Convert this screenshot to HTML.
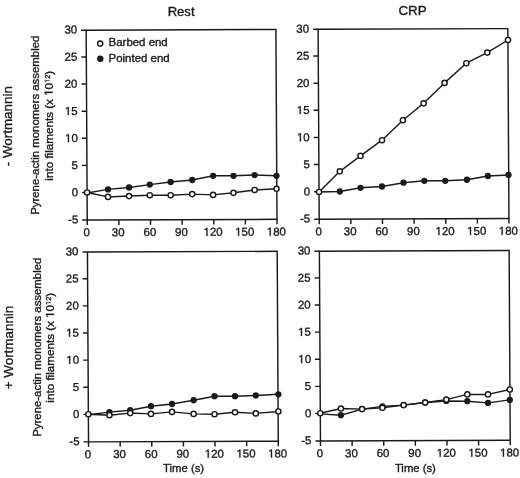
<!DOCTYPE html>
<html><head><meta charset="utf-8"><style>
html,body{margin:0;padding:0;background:#fff;}
body{width:520px;height:478px;overflow:hidden;}
svg{display:block;will-change:transform;}
text{fill:#1a1a1a;stroke:#1a1a1a;stroke-width:0.35px;}
.g1{fill:#1a1a1a;stroke:#1a1a1a;stroke-width:70px;}
</style></head><body>
<svg width="520" height="478" viewBox="0 0 520 478">
<rect width="520" height="478" fill="#fff"/>
<g transform="matrix(0.998688,-0.003697,0.005751,0.999256,86.158000,30.186000)">
<rect x="0" y="0" width="190.0" height="190.0" fill="none" stroke="#1a1a1a" stroke-width="1.45"/>
<line x1="-5" y1="190.00" x2="0" y2="190.00" stroke="#1a1a1a" stroke-width="1.45"/>
<text x="-19.23" y="193.30" font-size="11.5" font-family="Liberation Sans, sans-serif">-5</text>
<line x1="-5" y1="162.46" x2="0" y2="162.46" stroke="#1a1a1a" stroke-width="1.45"/>
<text x="-15.40" y="166.16" font-size="11.5" font-family="Liberation Sans, sans-serif">0</text>
<line x1="-5" y1="135.31" x2="0" y2="135.31" stroke="#1a1a1a" stroke-width="1.45"/>
<text x="-15.40" y="139.01" font-size="11.5" font-family="Liberation Sans, sans-serif">5</text>
<line x1="-5" y1="108.17" x2="0" y2="108.17" stroke="#1a1a1a" stroke-width="1.45"/>
<text x="-21.79" y="111.87" font-size="11.5" font-family="Liberation Sans, sans-serif">&#8199;0</text>
<path class="g1" transform="translate(-21.79,111.87) scale(0.00562,-0.00562)" d="M515 0V1237L197 1010V1180L530 1409H696V0Z"/>
<line x1="-5" y1="81.03" x2="0" y2="81.03" stroke="#1a1a1a" stroke-width="1.45"/>
<text x="-21.79" y="84.73" font-size="11.5" font-family="Liberation Sans, sans-serif">&#8199;5</text>
<path class="g1" transform="translate(-21.79,84.73) scale(0.00562,-0.00562)" d="M515 0V1237L197 1010V1180L530 1409H696V0Z"/>
<line x1="-5" y1="53.89" x2="0" y2="53.89" stroke="#1a1a1a" stroke-width="1.45"/>
<text x="-21.79" y="57.59" font-size="11.5" font-family="Liberation Sans, sans-serif">20</text>
<line x1="-5" y1="26.74" x2="0" y2="26.74" stroke="#1a1a1a" stroke-width="1.45"/>
<text x="-21.79" y="30.44" font-size="11.5" font-family="Liberation Sans, sans-serif">25</text>
<line x1="-5" y1="0.00" x2="0" y2="0.00" stroke="#1a1a1a" stroke-width="1.45"/>
<text x="-21.79" y="3.30" font-size="11.5" font-family="Liberation Sans, sans-serif">30</text>
<line x1="0.00" y1="190.0" x2="0.00" y2="195.0" stroke="#1a1a1a" stroke-width="1.45"/>
<text x="-3.90" y="206.30" font-size="11.5" font-family="Liberation Sans, sans-serif">0</text>
<line x1="31.67" y1="190.0" x2="31.67" y2="195.0" stroke="#1a1a1a" stroke-width="1.45"/>
<text x="24.57" y="206.30" font-size="11.5" font-family="Liberation Sans, sans-serif">30</text>
<line x1="63.33" y1="190.0" x2="63.33" y2="195.0" stroke="#1a1a1a" stroke-width="1.45"/>
<text x="56.24" y="206.30" font-size="11.5" font-family="Liberation Sans, sans-serif">60</text>
<line x1="95.00" y1="190.0" x2="95.00" y2="195.0" stroke="#1a1a1a" stroke-width="1.45"/>
<text x="87.90" y="206.30" font-size="11.5" font-family="Liberation Sans, sans-serif">90</text>
<line x1="126.67" y1="190.0" x2="126.67" y2="195.0" stroke="#1a1a1a" stroke-width="1.45"/>
<text x="116.37" y="206.30" font-size="11.5" font-family="Liberation Sans, sans-serif">&#8199;20</text>
<path class="g1" transform="translate(116.37,206.30) scale(0.00562,-0.00562)" d="M515 0V1237L197 1010V1180L530 1409H696V0Z"/>
<line x1="158.33" y1="190.0" x2="158.33" y2="195.0" stroke="#1a1a1a" stroke-width="1.45"/>
<text x="148.04" y="206.30" font-size="11.5" font-family="Liberation Sans, sans-serif">&#8199;50</text>
<path class="g1" transform="translate(148.04,206.30) scale(0.00562,-0.00562)" d="M515 0V1237L197 1010V1180L530 1409H696V0Z"/>
<line x1="190.00" y1="190.0" x2="190.00" y2="195.0" stroke="#1a1a1a" stroke-width="1.45"/>
<text x="179.71" y="206.30" font-size="11.5" font-family="Liberation Sans, sans-serif">&#8199;80</text>
<path class="g1" transform="translate(179.71,206.30) scale(0.00562,-0.00562)" d="M515 0V1237L197 1010V1180L530 1409H696V0Z"/>
<polyline fill="none" stroke="#1a1a1a" stroke-width="1.45" stroke-linejoin="round" points="0.00,162.86 20.95,159.41 41.99,157.59 62.83,154.76 83.68,152.24 105.32,150.32 126.27,146.19 146.69,146.27 167.82,145.64 189.75,146.42"/>
<circle cx="20.95" cy="159.41" r="3.15" fill="#1a1a1a"/>
<circle cx="41.99" cy="157.59" r="3.15" fill="#1a1a1a"/>
<circle cx="62.83" cy="154.76" r="3.15" fill="#1a1a1a"/>
<circle cx="83.68" cy="152.24" r="3.15" fill="#1a1a1a"/>
<circle cx="105.32" cy="150.32" r="3.15" fill="#1a1a1a"/>
<circle cx="126.27" cy="146.19" r="3.15" fill="#1a1a1a"/>
<circle cx="146.69" cy="146.27" r="3.15" fill="#1a1a1a"/>
<circle cx="167.82" cy="145.64" r="3.15" fill="#1a1a1a"/>
<circle cx="189.75" cy="146.42" r="3.15" fill="#1a1a1a"/>
<polyline fill="none" stroke="#1a1a1a" stroke-width="1.45" stroke-linejoin="round" points="0.00,162.43 20.91,166.92 41.94,166.19 62.77,165.37 83.60,165.45 105.23,164.43 126.16,165.30 146.60,163.28 167.74,160.55 189.67,159.43"/>
<circle cx="0.00" cy="162.43" r="2.60" fill="#fff" stroke="#1a1a1a" stroke-width="1.45"/>
<circle cx="20.91" cy="166.92" r="2.60" fill="#fff" stroke="#1a1a1a" stroke-width="1.45"/>
<circle cx="41.94" cy="166.19" r="2.60" fill="#fff" stroke="#1a1a1a" stroke-width="1.45"/>
<circle cx="62.77" cy="165.37" r="2.60" fill="#fff" stroke="#1a1a1a" stroke-width="1.45"/>
<circle cx="83.60" cy="165.45" r="2.60" fill="#fff" stroke="#1a1a1a" stroke-width="1.45"/>
<circle cx="105.23" cy="164.43" r="2.60" fill="#fff" stroke="#1a1a1a" stroke-width="1.45"/>
<circle cx="126.16" cy="165.30" r="2.60" fill="#fff" stroke="#1a1a1a" stroke-width="1.45"/>
<circle cx="146.60" cy="163.28" r="2.60" fill="#fff" stroke="#1a1a1a" stroke-width="1.45"/>
<circle cx="167.74" cy="160.55" r="2.60" fill="#fff" stroke="#1a1a1a" stroke-width="1.45"/>
<circle cx="189.67" cy="159.43" r="2.60" fill="#fff" stroke="#1a1a1a" stroke-width="1.45"/>
<rect x="232.25" y="0" width="190.0" height="190.0" fill="none" stroke="#1a1a1a" stroke-width="1.45"/>
<line x1="227.25" y1="190.00" x2="232.25" y2="190.00" stroke="#1a1a1a" stroke-width="1.45"/>
<text x="213.02" y="193.30" font-size="11.5" font-family="Liberation Sans, sans-serif">-5</text>
<line x1="227.25" y1="162.46" x2="232.25" y2="162.46" stroke="#1a1a1a" stroke-width="1.45"/>
<text x="216.85" y="166.16" font-size="11.5" font-family="Liberation Sans, sans-serif">0</text>
<line x1="227.25" y1="135.31" x2="232.25" y2="135.31" stroke="#1a1a1a" stroke-width="1.45"/>
<text x="216.85" y="139.01" font-size="11.5" font-family="Liberation Sans, sans-serif">5</text>
<line x1="227.25" y1="108.17" x2="232.25" y2="108.17" stroke="#1a1a1a" stroke-width="1.45"/>
<text x="210.46" y="111.87" font-size="11.5" font-family="Liberation Sans, sans-serif">&#8199;0</text>
<path class="g1" transform="translate(210.46,111.87) scale(0.00562,-0.00562)" d="M515 0V1237L197 1010V1180L530 1409H696V0Z"/>
<line x1="227.25" y1="81.03" x2="232.25" y2="81.03" stroke="#1a1a1a" stroke-width="1.45"/>
<text x="210.46" y="84.73" font-size="11.5" font-family="Liberation Sans, sans-serif">&#8199;5</text>
<path class="g1" transform="translate(210.46,84.73) scale(0.00562,-0.00562)" d="M515 0V1237L197 1010V1180L530 1409H696V0Z"/>
<line x1="227.25" y1="53.89" x2="232.25" y2="53.89" stroke="#1a1a1a" stroke-width="1.45"/>
<text x="210.46" y="57.59" font-size="11.5" font-family="Liberation Sans, sans-serif">20</text>
<line x1="227.25" y1="26.74" x2="232.25" y2="26.74" stroke="#1a1a1a" stroke-width="1.45"/>
<text x="210.46" y="30.44" font-size="11.5" font-family="Liberation Sans, sans-serif">25</text>
<line x1="227.25" y1="0.00" x2="232.25" y2="0.00" stroke="#1a1a1a" stroke-width="1.45"/>
<text x="210.46" y="3.30" font-size="11.5" font-family="Liberation Sans, sans-serif">30</text>
<line x1="232.25" y1="190.0" x2="232.25" y2="195.0" stroke="#1a1a1a" stroke-width="1.45"/>
<text x="228.35" y="206.30" font-size="11.5" font-family="Liberation Sans, sans-serif">0</text>
<line x1="263.92" y1="190.0" x2="263.92" y2="195.0" stroke="#1a1a1a" stroke-width="1.45"/>
<text x="256.82" y="206.30" font-size="11.5" font-family="Liberation Sans, sans-serif">30</text>
<line x1="295.58" y1="190.0" x2="295.58" y2="195.0" stroke="#1a1a1a" stroke-width="1.45"/>
<text x="288.49" y="206.30" font-size="11.5" font-family="Liberation Sans, sans-serif">60</text>
<line x1="327.25" y1="190.0" x2="327.25" y2="195.0" stroke="#1a1a1a" stroke-width="1.45"/>
<text x="320.15" y="206.30" font-size="11.5" font-family="Liberation Sans, sans-serif">90</text>
<line x1="358.92" y1="190.0" x2="358.92" y2="195.0" stroke="#1a1a1a" stroke-width="1.45"/>
<text x="348.62" y="206.30" font-size="11.5" font-family="Liberation Sans, sans-serif">&#8199;20</text>
<path class="g1" transform="translate(348.62,206.30) scale(0.00562,-0.00562)" d="M515 0V1237L197 1010V1180L530 1409H696V0Z"/>
<line x1="390.58" y1="190.0" x2="390.58" y2="195.0" stroke="#1a1a1a" stroke-width="1.45"/>
<text x="380.29" y="206.30" font-size="11.5" font-family="Liberation Sans, sans-serif">&#8199;50</text>
<path class="g1" transform="translate(380.29,206.30) scale(0.00562,-0.00562)" d="M515 0V1237L197 1010V1180L530 1409H696V0Z"/>
<line x1="422.25" y1="190.0" x2="422.25" y2="195.0" stroke="#1a1a1a" stroke-width="1.45"/>
<text x="411.96" y="206.30" font-size="11.5" font-family="Liberation Sans, sans-serif">&#8199;80</text>
<path class="g1" transform="translate(411.96,206.30) scale(0.00562,-0.00562)" d="M515 0V1237L197 1010V1180L530 1409H696V0Z"/>
<polyline fill="none" stroke="#1a1a1a" stroke-width="1.45" stroke-linejoin="round" points="232.25,162.86 253.04,162.37 273.79,158.74 295.32,157.52 316.87,153.80 337.71,151.98 358.64,152.05 380.37,151.08 401.42,147.41 422.05,146.48"/>
<circle cx="253.04" cy="162.37" r="3.15" fill="#1a1a1a"/>
<circle cx="273.79" cy="158.74" r="3.15" fill="#1a1a1a"/>
<circle cx="295.32" cy="157.52" r="3.15" fill="#1a1a1a"/>
<circle cx="316.87" cy="153.80" r="3.15" fill="#1a1a1a"/>
<circle cx="337.71" cy="151.98" r="3.15" fill="#1a1a1a"/>
<circle cx="358.64" cy="152.05" r="3.15" fill="#1a1a1a"/>
<circle cx="380.37" cy="151.08" r="3.15" fill="#1a1a1a"/>
<circle cx="401.42" cy="147.41" r="3.15" fill="#1a1a1a"/>
<circle cx="422.05" cy="146.48" r="3.15" fill="#1a1a1a"/>
<polyline fill="none" stroke="#1a1a1a" stroke-width="1.45" stroke-linejoin="round" points="232.25,162.79 253.16,142.16 273.97,126.82 295.59,111.19 316.63,91.25 337.46,74.42 358.60,54.08 380.44,34.45 401.53,23.92 422.33,11.38"/>
<circle cx="232.25" cy="162.79" r="2.60" fill="#fff" stroke="#1a1a1a" stroke-width="1.45"/>
<circle cx="253.16" cy="142.16" r="2.60" fill="#fff" stroke="#1a1a1a" stroke-width="1.45"/>
<circle cx="273.97" cy="126.82" r="2.60" fill="#fff" stroke="#1a1a1a" stroke-width="1.45"/>
<circle cx="295.59" cy="111.19" r="2.60" fill="#fff" stroke="#1a1a1a" stroke-width="1.45"/>
<circle cx="316.63" cy="91.25" r="2.60" fill="#fff" stroke="#1a1a1a" stroke-width="1.45"/>
<circle cx="337.46" cy="74.42" r="2.60" fill="#fff" stroke="#1a1a1a" stroke-width="1.45"/>
<circle cx="358.60" cy="54.08" r="2.60" fill="#fff" stroke="#1a1a1a" stroke-width="1.45"/>
<circle cx="380.44" cy="34.45" r="2.60" fill="#fff" stroke="#1a1a1a" stroke-width="1.45"/>
<circle cx="401.53" cy="23.92" r="2.60" fill="#fff" stroke="#1a1a1a" stroke-width="1.45"/>
<circle cx="422.33" cy="11.38" r="2.60" fill="#fff" stroke="#1a1a1a" stroke-width="1.45"/>
<rect x="0" y="222" width="190.0" height="190.0" fill="none" stroke="#1a1a1a" stroke-width="1.45"/>
<line x1="-5" y1="412.00" x2="0" y2="412.00" stroke="#1a1a1a" stroke-width="1.45"/>
<text x="-19.23" y="415.30" font-size="11.5" font-family="Liberation Sans, sans-serif">-5</text>
<line x1="-5" y1="384.46" x2="0" y2="384.46" stroke="#1a1a1a" stroke-width="1.45"/>
<text x="-15.40" y="388.16" font-size="11.5" font-family="Liberation Sans, sans-serif">0</text>
<line x1="-5" y1="357.31" x2="0" y2="357.31" stroke="#1a1a1a" stroke-width="1.45"/>
<text x="-15.40" y="361.01" font-size="11.5" font-family="Liberation Sans, sans-serif">5</text>
<line x1="-5" y1="330.17" x2="0" y2="330.17" stroke="#1a1a1a" stroke-width="1.45"/>
<text x="-21.79" y="333.87" font-size="11.5" font-family="Liberation Sans, sans-serif">&#8199;0</text>
<path class="g1" transform="translate(-21.79,333.87) scale(0.00562,-0.00562)" d="M515 0V1237L197 1010V1180L530 1409H696V0Z"/>
<line x1="-5" y1="303.03" x2="0" y2="303.03" stroke="#1a1a1a" stroke-width="1.45"/>
<text x="-21.79" y="306.73" font-size="11.5" font-family="Liberation Sans, sans-serif">&#8199;5</text>
<path class="g1" transform="translate(-21.79,306.73) scale(0.00562,-0.00562)" d="M515 0V1237L197 1010V1180L530 1409H696V0Z"/>
<line x1="-5" y1="275.89" x2="0" y2="275.89" stroke="#1a1a1a" stroke-width="1.45"/>
<text x="-21.79" y="279.59" font-size="11.5" font-family="Liberation Sans, sans-serif">20</text>
<line x1="-5" y1="248.74" x2="0" y2="248.74" stroke="#1a1a1a" stroke-width="1.45"/>
<text x="-21.79" y="252.44" font-size="11.5" font-family="Liberation Sans, sans-serif">25</text>
<line x1="-5" y1="222.00" x2="0" y2="222.00" stroke="#1a1a1a" stroke-width="1.45"/>
<text x="-21.79" y="225.30" font-size="11.5" font-family="Liberation Sans, sans-serif">30</text>
<line x1="0.00" y1="412.0" x2="0.00" y2="417.0" stroke="#1a1a1a" stroke-width="1.45"/>
<text x="-3.90" y="428.30" font-size="11.5" font-family="Liberation Sans, sans-serif">0</text>
<line x1="31.67" y1="412.0" x2="31.67" y2="417.0" stroke="#1a1a1a" stroke-width="1.45"/>
<text x="24.57" y="428.30" font-size="11.5" font-family="Liberation Sans, sans-serif">30</text>
<line x1="63.33" y1="412.0" x2="63.33" y2="417.0" stroke="#1a1a1a" stroke-width="1.45"/>
<text x="56.24" y="428.30" font-size="11.5" font-family="Liberation Sans, sans-serif">60</text>
<line x1="95.00" y1="412.0" x2="95.00" y2="417.0" stroke="#1a1a1a" stroke-width="1.45"/>
<text x="87.90" y="428.30" font-size="11.5" font-family="Liberation Sans, sans-serif">90</text>
<line x1="126.67" y1="412.0" x2="126.67" y2="417.0" stroke="#1a1a1a" stroke-width="1.45"/>
<text x="116.37" y="428.30" font-size="11.5" font-family="Liberation Sans, sans-serif">&#8199;20</text>
<path class="g1" transform="translate(116.37,428.30) scale(0.00562,-0.00562)" d="M515 0V1237L197 1010V1180L530 1409H696V0Z"/>
<line x1="158.33" y1="412.0" x2="158.33" y2="417.0" stroke="#1a1a1a" stroke-width="1.45"/>
<text x="148.04" y="428.30" font-size="11.5" font-family="Liberation Sans, sans-serif">&#8199;50</text>
<path class="g1" transform="translate(148.04,428.30) scale(0.00562,-0.00562)" d="M515 0V1237L197 1010V1180L530 1409H696V0Z"/>
<line x1="190.00" y1="412.0" x2="190.00" y2="417.0" stroke="#1a1a1a" stroke-width="1.45"/>
<text x="179.71" y="428.30" font-size="11.5" font-family="Liberation Sans, sans-serif">&#8199;80</text>
<path class="g1" transform="translate(179.71,428.30) scale(0.00562,-0.00562)" d="M515 0V1237L197 1010V1180L530 1409H696V0Z"/>
<polyline fill="none" stroke="#1a1a1a" stroke-width="1.45" stroke-linejoin="round" points="0.00,384.86 21.07,382.28 41.91,380.45 62.76,376.53 83.80,374.40 105.45,370.68 126.40,366.75 146.93,366.83 167.76,366.11 190.39,365.09"/>
<circle cx="21.07" cy="382.28" r="3.15" fill="#1a1a1a"/>
<circle cx="41.91" cy="380.45" r="3.15" fill="#1a1a1a"/>
<circle cx="62.76" cy="376.53" r="3.15" fill="#1a1a1a"/>
<circle cx="83.80" cy="374.40" r="3.15" fill="#1a1a1a"/>
<circle cx="105.45" cy="370.68" r="3.15" fill="#1a1a1a"/>
<circle cx="126.40" cy="366.75" r="3.15" fill="#1a1a1a"/>
<circle cx="146.93" cy="366.83" r="3.15" fill="#1a1a1a"/>
<circle cx="167.76" cy="366.11" r="3.15" fill="#1a1a1a"/>
<circle cx="190.39" cy="365.09" r="3.15" fill="#1a1a1a"/>
<polyline fill="none" stroke="#1a1a1a" stroke-width="1.45" stroke-linejoin="round" points="0.00,384.30 21.05,385.38 41.89,383.35 62.71,384.23 83.75,382.31 105.37,384.39 126.29,384.77 146.83,382.94 167.65,384.12 190.29,382.30"/>
<circle cx="0.00" cy="384.30" r="2.60" fill="#fff" stroke="#1a1a1a" stroke-width="1.45"/>
<circle cx="21.05" cy="385.38" r="2.60" fill="#fff" stroke="#1a1a1a" stroke-width="1.45"/>
<circle cx="41.89" cy="383.35" r="2.60" fill="#fff" stroke="#1a1a1a" stroke-width="1.45"/>
<circle cx="62.71" cy="384.23" r="2.60" fill="#fff" stroke="#1a1a1a" stroke-width="1.45"/>
<circle cx="83.75" cy="382.31" r="2.60" fill="#fff" stroke="#1a1a1a" stroke-width="1.45"/>
<circle cx="105.37" cy="384.39" r="2.60" fill="#fff" stroke="#1a1a1a" stroke-width="1.45"/>
<circle cx="126.29" cy="384.77" r="2.60" fill="#fff" stroke="#1a1a1a" stroke-width="1.45"/>
<circle cx="146.83" cy="382.94" r="2.60" fill="#fff" stroke="#1a1a1a" stroke-width="1.45"/>
<circle cx="167.65" cy="384.12" r="2.60" fill="#fff" stroke="#1a1a1a" stroke-width="1.45"/>
<circle cx="190.29" cy="382.30" r="2.60" fill="#fff" stroke="#1a1a1a" stroke-width="1.45"/>
<rect x="232.25" y="222" width="190.0" height="190.0" fill="none" stroke="#1a1a1a" stroke-width="1.45"/>
<line x1="227.25" y1="412.00" x2="232.25" y2="412.00" stroke="#1a1a1a" stroke-width="1.45"/>
<text x="213.02" y="415.30" font-size="11.5" font-family="Liberation Sans, sans-serif">-5</text>
<line x1="227.25" y1="384.46" x2="232.25" y2="384.46" stroke="#1a1a1a" stroke-width="1.45"/>
<text x="216.85" y="388.16" font-size="11.5" font-family="Liberation Sans, sans-serif">0</text>
<line x1="227.25" y1="357.31" x2="232.25" y2="357.31" stroke="#1a1a1a" stroke-width="1.45"/>
<text x="216.85" y="361.01" font-size="11.5" font-family="Liberation Sans, sans-serif">5</text>
<line x1="227.25" y1="330.17" x2="232.25" y2="330.17" stroke="#1a1a1a" stroke-width="1.45"/>
<text x="210.46" y="333.87" font-size="11.5" font-family="Liberation Sans, sans-serif">&#8199;0</text>
<path class="g1" transform="translate(210.46,333.87) scale(0.00562,-0.00562)" d="M515 0V1237L197 1010V1180L530 1409H696V0Z"/>
<line x1="227.25" y1="303.03" x2="232.25" y2="303.03" stroke="#1a1a1a" stroke-width="1.45"/>
<text x="210.46" y="306.73" font-size="11.5" font-family="Liberation Sans, sans-serif">&#8199;5</text>
<path class="g1" transform="translate(210.46,306.73) scale(0.00562,-0.00562)" d="M515 0V1237L197 1010V1180L530 1409H696V0Z"/>
<line x1="227.25" y1="275.89" x2="232.25" y2="275.89" stroke="#1a1a1a" stroke-width="1.45"/>
<text x="210.46" y="279.59" font-size="11.5" font-family="Liberation Sans, sans-serif">20</text>
<line x1="227.25" y1="248.74" x2="232.25" y2="248.74" stroke="#1a1a1a" stroke-width="1.45"/>
<text x="210.46" y="252.44" font-size="11.5" font-family="Liberation Sans, sans-serif">25</text>
<line x1="227.25" y1="222.00" x2="232.25" y2="222.00" stroke="#1a1a1a" stroke-width="1.45"/>
<text x="210.46" y="225.30" font-size="11.5" font-family="Liberation Sans, sans-serif">30</text>
<line x1="232.25" y1="412.0" x2="232.25" y2="417.0" stroke="#1a1a1a" stroke-width="1.45"/>
<text x="228.35" y="428.30" font-size="11.5" font-family="Liberation Sans, sans-serif">0</text>
<line x1="263.92" y1="412.0" x2="263.92" y2="417.0" stroke="#1a1a1a" stroke-width="1.45"/>
<text x="256.82" y="428.30" font-size="11.5" font-family="Liberation Sans, sans-serif">30</text>
<line x1="295.58" y1="412.0" x2="295.58" y2="417.0" stroke="#1a1a1a" stroke-width="1.45"/>
<text x="288.49" y="428.30" font-size="11.5" font-family="Liberation Sans, sans-serif">60</text>
<line x1="327.25" y1="412.0" x2="327.25" y2="417.0" stroke="#1a1a1a" stroke-width="1.45"/>
<text x="320.15" y="428.30" font-size="11.5" font-family="Liberation Sans, sans-serif">90</text>
<line x1="358.92" y1="412.0" x2="358.92" y2="417.0" stroke="#1a1a1a" stroke-width="1.45"/>
<text x="348.62" y="428.30" font-size="11.5" font-family="Liberation Sans, sans-serif">&#8199;20</text>
<path class="g1" transform="translate(348.62,428.30) scale(0.00562,-0.00562)" d="M515 0V1237L197 1010V1180L530 1409H696V0Z"/>
<line x1="390.58" y1="412.0" x2="390.58" y2="417.0" stroke="#1a1a1a" stroke-width="1.45"/>
<text x="380.29" y="428.30" font-size="11.5" font-family="Liberation Sans, sans-serif">&#8199;50</text>
<path class="g1" transform="translate(380.29,428.30) scale(0.00562,-0.00562)" d="M515 0V1237L197 1010V1180L530 1409H696V0Z"/>
<line x1="422.25" y1="412.0" x2="422.25" y2="417.0" stroke="#1a1a1a" stroke-width="1.45"/>
<text x="411.96" y="428.30" font-size="11.5" font-family="Liberation Sans, sans-serif">&#8199;80</text>
<path class="g1" transform="translate(411.96,428.30) scale(0.00562,-0.00562)" d="M515 0V1237L197 1010V1180L530 1409H696V0Z"/>
<polyline fill="none" stroke="#1a1a1a" stroke-width="1.45" stroke-linejoin="round" points="232.25,384.86 252.85,386.24 274.12,380.21 294.46,377.58 315.69,376.36 337.33,373.84 358.47,372.32 379.50,372.69 400.21,374.47 422.06,371.55"/>
<circle cx="252.85" cy="386.24" r="3.15" fill="#1a1a1a"/>
<circle cx="274.12" cy="380.21" r="3.15" fill="#1a1a1a"/>
<circle cx="294.46" cy="377.58" r="3.15" fill="#1a1a1a"/>
<circle cx="315.69" cy="376.36" r="3.15" fill="#1a1a1a"/>
<circle cx="337.33" cy="373.84" r="3.15" fill="#1a1a1a"/>
<circle cx="358.47" cy="372.32" r="3.15" fill="#1a1a1a"/>
<circle cx="379.50" cy="372.69" r="3.15" fill="#1a1a1a"/>
<circle cx="400.21" cy="374.47" r="3.15" fill="#1a1a1a"/>
<circle cx="422.06" cy="371.55" r="3.15" fill="#1a1a1a"/>
<polyline fill="none" stroke="#1a1a1a" stroke-width="1.45" stroke-linejoin="round" points="232.25,384.16 252.89,379.53 274.12,380.21 294.45,378.98 315.69,376.36 337.33,373.84 358.48,371.02 379.54,365.89 400.26,365.97 422.12,361.14"/>
<circle cx="232.25" cy="384.16" r="2.60" fill="#fff" stroke="#1a1a1a" stroke-width="1.45"/>
<circle cx="252.89" cy="379.53" r="2.60" fill="#fff" stroke="#1a1a1a" stroke-width="1.45"/>
<circle cx="274.12" cy="380.21" r="2.60" fill="#fff" stroke="#1a1a1a" stroke-width="1.45"/>
<circle cx="294.45" cy="378.98" r="2.60" fill="#fff" stroke="#1a1a1a" stroke-width="1.45"/>
<circle cx="315.69" cy="376.36" r="2.60" fill="#fff" stroke="#1a1a1a" stroke-width="1.45"/>
<circle cx="337.33" cy="373.84" r="2.60" fill="#fff" stroke="#1a1a1a" stroke-width="1.45"/>
<circle cx="358.48" cy="371.02" r="2.60" fill="#fff" stroke="#1a1a1a" stroke-width="1.45"/>
<circle cx="379.54" cy="365.89" r="2.60" fill="#fff" stroke="#1a1a1a" stroke-width="1.45"/>
<circle cx="400.26" cy="365.97" r="2.60" fill="#fff" stroke="#1a1a1a" stroke-width="1.45"/>
<circle cx="422.12" cy="361.14" r="2.60" fill="#fff" stroke="#1a1a1a" stroke-width="1.45"/>
</g>
<circle cx="100.2" cy="43.6" r="2.6" fill="#fff" stroke="#1a1a1a" stroke-width="1.4"/>
<circle cx="100.3" cy="58.8" r="3.2" fill="#1a1a1a"/>
<text transform="translate(108.6,46.4) scale(1.08,1)" font-size="10.6" font-family="Liberation Sans, sans-serif">Barbed end</text>
<text transform="translate(108.6,61.6) scale(1.08,1)" font-size="10.6" font-family="Liberation Sans, sans-serif">Pointed end</text>
<text x="181.1" y="16.0" text-anchor="middle" font-size="13.1" font-family="Liberation Sans, sans-serif">Rest</text>
<text x="412.6" y="15.4" text-anchor="middle" font-size="13.4" font-family="Liberation Sans, sans-serif">CRP</text>
<text transform="translate(11.6,126.2) rotate(-90)" text-anchor="middle" font-size="13.4" font-family="Liberation Sans, sans-serif">- Wortmannin</text>
<text transform="translate(13.2,347.5) rotate(-90)" text-anchor="middle" font-size="13.4" font-family="Liberation Sans, sans-serif">+ Wortmannin</text>
<text x="183.6" y="472.2" text-anchor="middle" font-size="11.3" font-family="Liberation Sans, sans-serif">Time (s)</text>
<text x="415.4" y="471.6" text-anchor="middle" font-size="11.3" font-family="Liberation Sans, sans-serif">Time (s)</text>
<text transform="translate(39.4,125.25) rotate(-90)" text-anchor="middle" font-size="11.4" font-family="Liberation Sans, sans-serif">Pyrene-actin monomers assembled</text>
<g transform="translate(52.6,125.75) rotate(-90)"><text x="-54.89" y="0" font-size="11.65" font-family="Liberation Sans, sans-serif">into filaments (x &#8199;0</text><path class="g1" transform="translate(29.93,0) scale(0.00569,-0.00569)" d="M515 0V1237L197 1010V1180L530 1409H696V0Z"/><text x="42.89" y="-3.0" font-size="7.3" font-family="Liberation Sans, sans-serif">&#8199;2</text><path class="g1" transform="translate(42.89,-3.0) scale(0.00356,-0.00356)" d="M515 0V1237L197 1010V1180L530 1409H696V0Z"/><text x="51.01" y="0" font-size="11.65" font-family="Liberation Sans, sans-serif">)</text></g>
<text transform="translate(40.8,347.2) rotate(-90)" text-anchor="middle" font-size="11.4" font-family="Liberation Sans, sans-serif">Pyrene-actin monomers assembled</text>
<g transform="translate(53.9,347.75) rotate(-90)"><text x="-54.89" y="0" font-size="11.65" font-family="Liberation Sans, sans-serif">into filaments (x &#8199;0</text><path class="g1" transform="translate(29.93,0) scale(0.00569,-0.00569)" d="M515 0V1237L197 1010V1180L530 1409H696V0Z"/><text x="42.89" y="-3.0" font-size="7.3" font-family="Liberation Sans, sans-serif">&#8199;2</text><path class="g1" transform="translate(42.89,-3.0) scale(0.00356,-0.00356)" d="M515 0V1237L197 1010V1180L530 1409H696V0Z"/><text x="51.01" y="0" font-size="11.65" font-family="Liberation Sans, sans-serif">)</text></g>
</svg>
</body></html>
